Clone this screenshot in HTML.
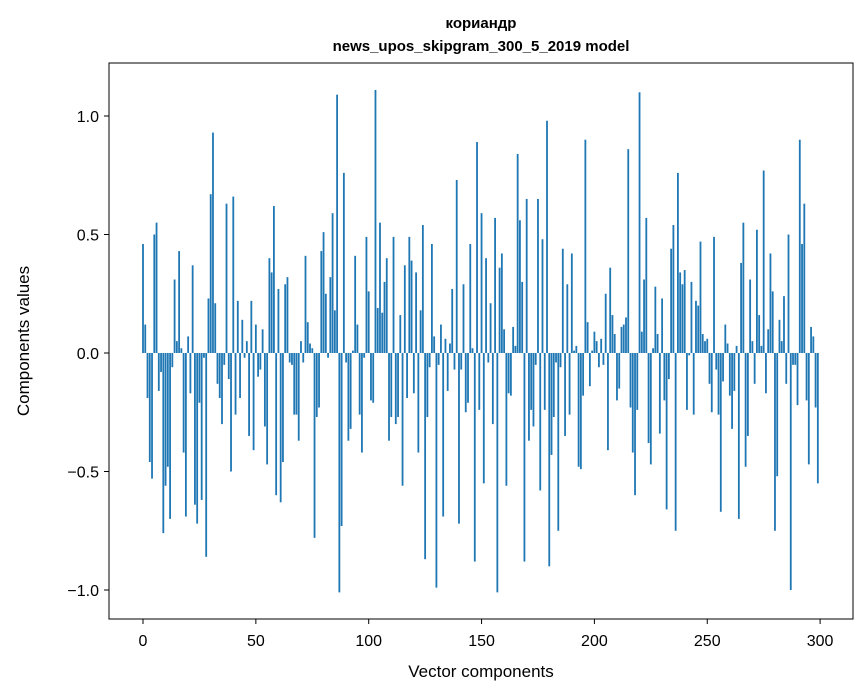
<!DOCTYPE html>
<html><head><meta charset="utf-8"><style>
body{margin:0;background:#fff;}
svg{display:block;font-family:"Liberation Sans","DejaVu Sans",sans-serif;}
</style></head><body>
<svg id="chart" width="867" height="696">
<rect x="0" y="0" width="867" height="696" fill="#fff"/>
<text x="481" y="28" text-anchor="middle" font-size="15" font-weight="bold">кориандр</text>
<text x="481" y="51" text-anchor="middle" font-size="15" font-weight="bold">news_upos_skipgram_300_5_2019 model</text>
<g id="bars"></g>
<g id="xticks"></g>
<g id="yticks"></g>
<rect x="109" y="63" width="744" height="556" fill="none" stroke="#000" stroke-width="1"/>
<text x="481" y="677" text-anchor="middle" font-size="17">Vector components</text>
<text transform="translate(29,341) rotate(-90)" text-anchor="middle" font-size="17">Components values</text>
</svg>
<script>
const values = [
0.46,0.12,-0.19,-0.46,-0.53,0.50,0.55,-0.16,-0.08,-0.76,
-0.56,-0.48,-0.70,-0.06,0.31,0.05,0.43,0.02,-0.42,-0.69,
0.07,-0.17,0.37,-0.64,-0.72,-0.21,-0.62,-0.02,-0.86,0.23,
0.67,0.93,0.21,-0.13,-0.19,-0.30,-0.05,0.63,-0.11,-0.50,
0.66,-0.26,0.22,-0.19,0.14,-0.02,0.05,-0.35,0.22,-0.41,
0.12,-0.10,-0.07,0.10,-0.31,-0.47,0.40,0.34,0.62,-0.60,
0.27,-0.63,-0.46,0.29,0.32,-0.04,-0.05,-0.26,-0.26,-0.37,
0.05,-0.04,0.41,0.13,0.04,0.02,-0.78,-0.27,-0.23,0.43,
0.51,0.25,-0.02,0.32,0.59,0.18,1.09,-1.01,-0.73,0.76,
-0.04,-0.37,-0.32,0.01,0.41,0.12,-0.26,-0.42,-0.02,0.49,
0.26,-0.20,-0.21,1.11,0.19,0.55,0.17,0.30,0.40,-0.37,
-0.27,0.49,-0.30,-0.27,0.16,-0.56,0.37,-0.19,0.49,0.39,
-0.17,0.34,-0.42,0.18,0.54,-0.87,-0.27,-0.06,0.46,0.07,
-0.99,-0.05,0.12,-0.69,0.06,-0.16,0.04,0.27,-0.07,0.73,
-0.72,-0.07,0.29,-0.25,-0.21,0.46,0.02,-0.88,0.89,-0.24,
0.59,-0.55,0.40,-0.04,0.21,-0.30,0.57,-1.01,0.36,0.42,
0.10,-0.56,-0.17,-0.18,0.11,0.03,0.84,0.56,0.30,-0.88,
0.65,-0.37,-0.24,-0.31,-0.05,0.65,-0.58,0.48,-0.24,0.98,
-0.90,-0.43,-0.27,-0.04,-0.75,-0.06,0.44,-0.35,0.29,-0.26,
0.42,0.01,0.03,-0.48,-0.49,-0.18,0.90,0.13,-0.14,0.01,
0.09,0.05,-0.06,0.06,-0.05,0.25,-0.41,0.36,0.16,0.08,
-0.20,-0.15,0.11,0.12,0.15,0.86,-0.23,-0.42,-0.60,-0.24,
1.10,0.09,0.31,0.57,-0.38,-0.47,0.02,0.28,0.08,-0.34,
0.23,-0.20,-0.66,-0.11,0.44,0.54,-0.75,0.76,0.34,0.29,
0.35,-0.24,-0.01,0.30,-0.26,0.22,0.20,0.47,0.08,0.05,
0.06,-0.13,-0.25,0.49,-0.07,-0.26,-0.67,-0.12,0.12,0.04,
-0.18,-0.32,-0.16,0.03,-0.70,0.38,0.55,-0.48,-0.35,0.31,
0.05,-0.13,0.52,0.16,0.03,0.77,-0.17,0.10,0.42,0.26,
-0.75,-0.52,0.14,0.05,0.24,-0.13,0.50,-1.00,-0.05,-0.05,
-0.22,0.90,0.46,0.63,-0.20,-0.47,0.11,0.07,-0.23,-0.55
];
const xTicks = [0,50,100,150,200,250,300];
const yTicks = [-1.0,-0.5,0.0,0.5,1.0];
const yTickLabels = ["\u22121.0","\u22120.5","0.0","0.5","1.0"];

const NS = "http://www.w3.org/2000/svg";
const X0 = 143, XS = 2.257, Y0 = 353, YS = 237;
function xScale(v){ return X0 + v*XS; }
function yScale(v){ return Y0 - v*YS; }

const bars = document.getElementById('bars');
values.forEach((v,i)=>{
  const r = document.createElementNS(NS,'rect');
  const x = xScale(i-0.4), w = xScale(i+0.4)-x;
  const y1 = yScale(Math.max(v,0)), y2 = yScale(Math.min(v,0));
  r.setAttribute('x',x); r.setAttribute('width',w);
  r.setAttribute('y',y1); r.setAttribute('height',Math.max(y2-y1,0.01));
  r.setAttribute('fill','#1f77b4');
  
  
  bars.appendChild(r);
});

const xg = document.getElementById('xticks');
xTicks.forEach(t=>{
  const x = xScale(t);
  const l = document.createElementNS(NS,'line');
  l.setAttribute('x1',x); l.setAttribute('x2',x); l.setAttribute('y1',619); l.setAttribute('y2',624);
  l.setAttribute('stroke','#000');
  
  
  xg.appendChild(l);
  const tx = document.createElementNS(NS,'text');
  tx.setAttribute('x',x); tx.setAttribute('y',646); tx.setAttribute('text-anchor','middle');
  tx.setAttribute('font-size','16');
  tx.textContent = t;
  
  
  xg.appendChild(tx);
});
const yg = document.getElementById('yticks');
yTicks.forEach((t,i)=>{
  const y = yScale(t);
  const l = document.createElementNS(NS,'line');
  l.setAttribute('x1',104); l.setAttribute('x2',109); l.setAttribute('y1',y); l.setAttribute('y2',y);
  l.setAttribute('stroke','#000');
  
  
  yg.appendChild(l);
  const tx = document.createElementNS(NS,'text');
  tx.setAttribute('x',99); tx.setAttribute('y',y+6); tx.setAttribute('text-anchor','end');
  tx.setAttribute('font-size','16');
  tx.textContent = yTickLabels[i];
  
  
  yg.appendChild(tx);
});
</script>
</body></html>
